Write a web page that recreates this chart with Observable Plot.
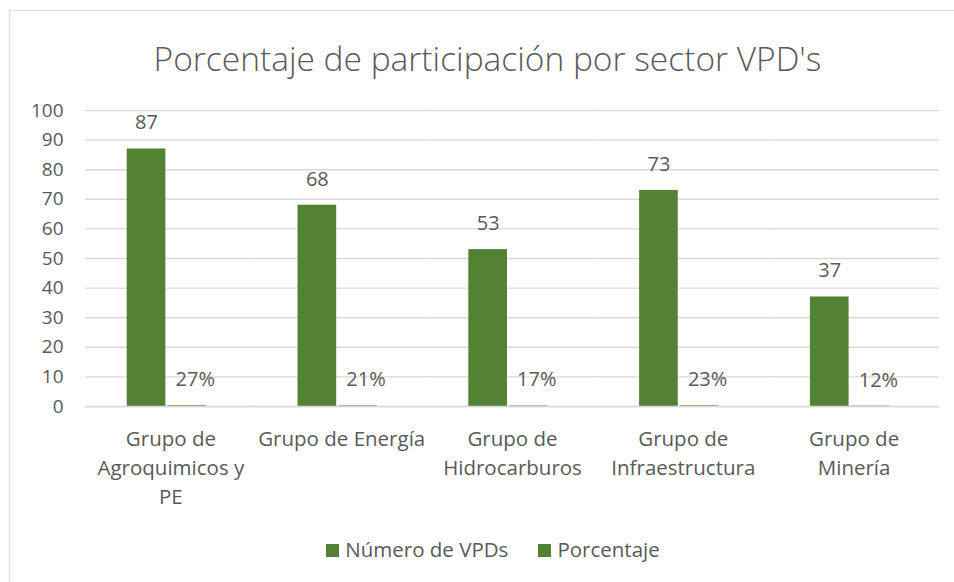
<!DOCTYPE html>
<html>
<head>
<meta charset="utf-8">
<script src="https://cdn.jsdelivr.net/npm/d3@7"></script>
<script src="https://cdn.jsdelivr.net/npm/@observablehq/plot@0.6"></script>
<style>
  html, body { margin: 0; padding: 0; background: #fff; }
  body { width: 954px; height: 582px; overflow: hidden; position: relative; font-family: "Open Sans", sans-serif; }
  #frame { position: absolute; left: 9px; top: 10px; width: 1000px; height: 700px; border-left: 1.5px solid #d9d9d9; border-top: 1.5px solid #d9d9d9; pointer-events: none; }
  #title { position: absolute; left: 0; width: 975px; top: 38px; text-align: center; font-size: 33.5px; font-weight: 300; color: #595959; line-height: 1.2; white-space: nowrap; }
  #legend { position: absolute; left: 0; width: 986px; top: 537px; text-align: center; font-size: 20.5px; color: #595959; line-height: 24px; white-space: nowrap; }
  #legend .item { display: inline-block; margin: 0 15px; }
  #legend .sw { display: inline-block; width: 13px; height: 13px; background: #548235; margin-right: 6px; vertical-align: 0px; }
  #chart { position: absolute; left: 0; top: 0; }
</style>
</head>
<body>
<div id="chart"></div>
<div id="frame"></div>
<div id="title">Porcentaje de participación por sector VPD's</div>
<div id="legend"></div>
<script>
const categories = [
  "Grupo de\nAgroquimicos y\nPE",
  "Grupo de Energía",
  "Grupo de\nHidrocarburos",
  "Grupo de\nInfraestructura",
  "Grupo de\nMinería"
];
const series = ["Número de VPDs", "Porcentaje"];
const numeroVPDs = [87, 68, 53, 73, 37];
const porcentaje = [0.27, 0.21, 0.17, 0.23, 0.12];
const yTicks = [0, 10, 20, 30, 40, 50, 60, 70, 80, 90, 100];

const data = [];
categories.forEach((c, i) => {
  data.push({category: c, series: series[0], value: numeroVPDs[i], label: String(numeroVPDs[i])});
  data.push({category: c, series: series[1], value: porcentaje[i], label: Math.round(porcentaje[i] * 100) + "%"});
});

const green = "#548235";
const textColor = "#595959";

const chart = Plot.plot({
  width: 954,
  height: 582,
  marginLeft: 85,
  marginRight: 15,
  marginTop: 110,
  marginBottom: 176,
  style: {fontFamily: "'Open Sans', sans-serif", background: "transparent"},
  fx: {domain: categories, padding: 0, round: false},
  x: {domain: series, paddingInner: 0, paddingOuter: 1.1, align: 0.455, round: false, axis: null},
  y: {domain: [0, 100]},
  marks: [
    Plot.gridY(yTicks, {stroke: "#d9d9d9", strokeOpacity: 1, strokeWidth: 1.4}),
    Plot.axisY(yTicks, {tickSize: 0, tickPadding: 22, fontSize: 19, fill: textColor, label: null}),
    Plot.axisFx({anchor: "bottom", tickSize: 0, tickPadding: 19, fontSize: 20.5, lineHeight: 1.42, fill: textColor, label: null}),
    Plot.barY(data, {fx: "category", x: "series", y: "value", fill: green, insetLeft: 1, insetRight: 1}),
    Plot.ruleY([0], {stroke: "#d9d9d9", strokeWidth: 1.6}),
    Plot.text(data.filter(d => d.series === series[0]), {fx: "category", x: "series", y: "value", text: "label", dy: -26, lineAnchor: "middle", fontSize: 20, fill: textColor}),
    Plot.text(data.filter(d => d.series === series[1]), {fx: "category", x: "series", y: "value", text: "label", dy: -26, dx: 8, lineAnchor: "middle", fontSize: 20, fill: textColor})
  ]
});
document.getElementById("chart").appendChild(chart);

const legend = document.getElementById("legend");
series.forEach(s => {
  const it = document.createElement("span");
  it.className = "item";
  const sw = document.createElement("span");
  sw.className = "sw";
  it.appendChild(sw);
  it.appendChild(document.createTextNode(s));
  legend.appendChild(it);
});
</script>
</body>
</html>
